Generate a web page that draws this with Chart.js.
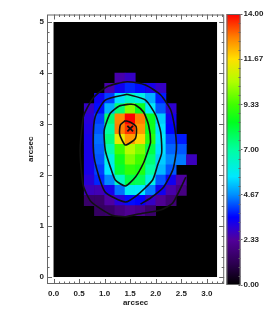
<!DOCTYPE html>
<html>
<head>
<meta charset="utf-8">
<title>arcsec map</title>
<script src="https://cdn.jsdelivr.net/npm/chart.js@4/dist/chart.umd.min.js"></script>
<style>
  html, body { margin: 0; padding: 0; background: #fff; }
  #wrap { position: relative; width: 273px; height: 314px; overflow: hidden; }
  #map { position: absolute; left: 0; top: 0; }
  #bar { position: absolute; left: 224px; top: 0; }
</style>
</head>
<body>
<div id="wrap">
  <canvas id="map" width="230" height="314"></canvas>
  <canvas id="bar" width="49" height="314"></canvas>
</div>
<script>
/* value per 0.2" pixel, first row is y = 4.8-5.0, first column x = 0.0-0.2 */
const flux = [
  [0,0,0,0,0,0,0,0,0,0,0,0,0,0,0,0],
  [0,0,0,0,0,0,0,0,0,0,0,0,0,0,0,0],
  [0,0,0,0,0,0,0,0,0,0,0,0,0,0,0,0],
  [0,0,0,0,0,0,0,0,0,0,0,0,0,0,0,0],
  [0,0,0,0,0,0,0,0,0,0,0,0,0,0,0,0],
  [0,0,0,0,0,0,2.5,2.8,0,0,0,0,0,0,0,0],
  [0,0,0,0,0,2.5,3.3,3.8,3.6,3.2,2.8,0,0,0,0,0],
  [0,0,0,0,3.3,4,5.5,6.5,6,5,3.7,0,0,0,0,0],
  [0,0,0,2.8,3.6,5,7.5,10,8.5,5.7,4.2,2.9,0,0,0,0],
  [0,0,0,3,4,7.5,12.7,14,12.8,8.5,5.3,3.3,0,0,0,0],
  [0,0,0,3.1,4.2,7,12.8,13.5,12.5,8.6,5.5,3.5,0,0,0,0],
  [0,0,0,3.2,4.4,7.4,11.3,12.5,11.8,9,5.7,4,3.7,0,0,0],
  [0,0,0,3.2,4.3,6.8,9.3,10.6,9.9,8,5.5,4.3,4.2,0,0,0],
  [0,0,0,3.2,4.2,6,8.6,10,9.3,7.5,5.3,4.6,4.5,2.7,0,0],
  [0,0,0,3.2,4,5.6,8.2,9.1,8.8,7,5.1,4.2,0,0,0,0],
  [0,0,0,3,3.8,4.6,6.5,8,7.8,6,4.2,3.3,2.4,0,0,0],
  [0,0,0,2.7,2.6,3.2,4.4,5.8,5.6,4.5,3.3,2.5,1.9,0,0,0],
  [0,0,0,1.5,1.5,2.4,3,3.6,3.5,2.8,2.2,1.7,0,0,0,0],
  [0,0,0,0,1.4,1.5,1.9,2.2,2,1.5,0,0,0,0,0,0],
  [0,0,0,0,0,0,0,0,0,0,0,0,0,0,0,0],
  [0,0,0,0,0,0,0,0,0,0,0,0,0,0,0,0],
  [0,0,0,0,0,0,0,0,0,0,0,0,0,0,0,0],
  [0,0,0,0,0,0,0,0,0,0,0,0,0,0,0,0],
  [0,0,0,0,0,0,0,0,0,0,0,0,0,0,0,0],
  [0,0,0,0,0,0,0,0,0,0,0,0,0,0,0,0]
];
const cellSize = 0.2;
const mapTop = 5;
const mapRight = 3.2;

/* contour lines in arcsec */
const contourOuter = [[2.59,1.96],[2.333,1.451],[2.097,1.314],[1.663,1.235],[1.406,1.182],[1.13,1.216],[.736,1.476],[.578,1.804],[.519,2.49],[.578,3.118],[.617,3.235],[.775,3.51],[1.045,3.731],[1.44,3.829],[1.8,3.765],[2.097,3.569],[2.294,3.275],[2.373,2.92],[2.406,2.588],[2.392,2.392],[2.333,2.098],[2.156,1.765],[1.899,1.549],[1.702,1.431]];
const contourMiddle = [[1.44,3.582],[1.8,3.47],[1.998,3.176],[2.097,2.843],[2.116,2.431],[2.037,2.196],[1.939,1.902],[1.663,1.627],[1.406,1.471],[1.006,1.673],[.809,2.261],[.775,2.686],[.815,3.143],[1.012,3.47],[1.44,3.582]];
const contourInner = [[1.505,3.392],[1.604,3.373],[1.761,3.235],[1.86,2.98],[1.899,2.647],[1.84,2.451],[1.761,2.235],[1.604,1.961],[1.406,1.784],[1.209,1.902],[1.11,2.163],[1.012,2.49],[.992,2.882],[1.11,3.21],[1.288,3.353],[1.505,3.392]];
const contourPeak = [[1.406,3.065],[1.308,2.98],[1.294,2.8],[1.406,2.588],[1.604,2.72],[1.617,2.947],[1.505,3.033],[1.406,3.065]];
const peakMark = [[1.5,2.91]];

const xTicks = [0, 0.5, 1, 1.5, 2, 2.5, 3];
const yTicks = [0, 1, 2, 3, 4, 5];
const barTicks = [0, 2.33, 4.67, 7, 9.33, 11.67, 14];

/* colour table, value -> colour */
const tableValues = [0, 1.1, 2.33, 3, 3.5, 4.67, 5.6, 7, 8.4, 9.33, 10.5, 11.67, 12.8, 14];
const tableColors = ['#000000', '#2c0050', '#52009a', '#2800d8', '#0000ff', '#0090ff', '#00e8ff', '#00ffa0', '#00ff20', '#40ff00', '#b0ff00', '#ffe000', '#ff8000', '#ff0000'];

function hexRgb(h) {
  return [1, 3, 5].map(i => parseInt(h.substr(i, 2), 16));
}
function colorFor(v) {
  let i = 0;
  while (i < tableValues.length - 2 && v > tableValues[i + 1]) i++;
  const t = (v - tableValues[i]) / (tableValues[i + 1] - tableValues[i]);
  const a = hexRgb(tableColors[i]), b = hexRgb(tableColors[i + 1]);
  const c = a.map((n, k) => Math.round(n + (b[k] - n) * t));
  return 'rgb(' + c.join(',') + ')';
}

const textFont = { family: "'Liberation Sans', sans-serif", size: 8, weight: 'bold' };
const textColor = '#222';
const frameColor = '#666';

// zero cells are left to the black backing drawn in the plugin below
const cells = [];
flux.forEach((row, r) => row.forEach((v, c) => {
  if (v > 0) cells.push({ x: (c + 0.5) * cellSize, y: mapTop - (r + 0.5) * cellSize, v });
}));

function contourSet(points) {
  return {
    data: points.map(p => ({ x: p[0], y: p[1] })),
    showLine: true, pointRadius: 0, borderColor: '#111', borderWidth: 1.6,
    tension: 0.2, order: 1
  };
}

// black image backing + inward ticks on all four sides, IDL style
const frameTicks = {
  id: 'frameTicks',
  beforeDatasetsDraw(chart) {
    const { ctx, scales: { x, y } } = chart;
    const left = x.getPixelForValue(0), top = y.getPixelForValue(mapTop);
    ctx.fillStyle = '#000';
    ctx.fillRect(left, top, x.getPixelForValue(mapRight) - left, y.getPixelForValue(0) - top);
  },
  afterDatasetsDraw(chart) {
    const { ctx, chartArea: a, scales: { x, y } } = chart;
    ctx.save();
    ctx.strokeStyle = frameColor;
    ctx.lineWidth = 1;
    ctx.strokeRect(a.left + 0.5, a.top + 0.5, a.right - a.left - 1, a.bottom - a.top - 1);
    ctx.beginPath();
    for (let i = 0; i <= 33; i++) {
      const px = Math.round(x.getPixelForValue(i * 0.1)) + 0.5;
      const len = i % 5 === 0 ? 5 : 2.5;
      ctx.moveTo(px, a.top); ctx.lineTo(px, a.top + len);
      ctx.moveTo(px, a.bottom); ctx.lineTo(px, a.bottom - len);
    }
    for (let i = 0; i <= 25; i++) {
      const py = Math.round(y.getPixelForValue(i * 0.2)) + 0.5;
      const len = i % 5 === 0 ? 5 : 2.5;
      ctx.moveTo(a.left, py); ctx.lineTo(a.left + len, py);
      ctx.moveTo(a.right, py); ctx.lineTo(a.right - len, py);
    }
    ctx.stroke();
    ctx.restore();
  }
};

new Chart(document.getElementById('map'), {
  type: 'scatter',
  plugins: [frameTicks],
  data: {
    datasets: [
      {
        data: cells,
        order: 5,
        pointStyle: 'rect',
        pointBorderWidth: 0,
        pointRadius(ctx) {
          const { x, y } = ctx.chart.scales;
          const w = Math.abs(x.getPixelForValue(cellSize) - x.getPixelForValue(0));
          const h = Math.abs(y.getPixelForValue(cellSize) - y.getPixelForValue(0));
          return (Math.max(w, h) + 0.6) / Math.SQRT2;
        },
        pointBackgroundColor: ctx => colorFor(ctx.raw ? ctx.raw.v : 0)
      },
      contourSet(contourOuter),
      contourSet(contourMiddle),
      contourSet(contourInner),
      contourSet(contourPeak),
      {
        data: peakMark.map(p => ({ x: p[0], y: p[1] })),
        pointStyle: 'crossRot', pointRadius: 4, pointBorderWidth: 1.8,
        pointBorderColor: '#111', order: 0
      }
    ]
  },
  options: {
    responsive: false,
    animation: false,
    events: [],
    layout: { padding: { top: 14.5, right: 1, left: 0, bottom: 0 } },
    plugins: { legend: { display: false }, tooltip: { enabled: false } },
    scales: {
      x: {
        type: 'linear', min: -0.128, max: 3.34,
        afterBuildTicks(s) { s.ticks = xTicks.map(v => ({ value: v })); },
        afterFit(s) { s.height = 30; },
        grid: { display: false, drawTicks: false }, border: { display: false },
        ticks: {
          font: textFont, color: textColor, padding: 5, maxRotation: 0, autoSkip: false,
          callback: v => v.toFixed(1)
        },
        title: { display: true, text: 'arcsec', font: textFont, color: textColor, padding: { top: 0, bottom: 6 } }
      },
      y: {
        type: 'linear', min: -0.137, max: 5.147,
        afterBuildTicks(s) { s.ticks = yTicks.map(v => ({ value: v })); },
        afterFit(s) { s.width = 47; },
        grid: { display: false, drawTicks: false }, border: { display: false },
        ticks: { font: textFont, color: textColor, padding: 3, autoSkip: false, callback: v => String(v) },
        title: { display: true, text: 'arcsec', font: textFont, color: textColor, padding: { top: 26, bottom: 0 } }
      }
    }
  }
});

const barEdge = {
  id: 'barEdge',
  afterDatasetsDraw(chart) {
    const { ctx, chartArea: a, scales: { y } } = chart;
    ctx.save();
    ctx.strokeStyle = frameColor;
    ctx.lineWidth = 1;
    ctx.strokeRect(a.left + 0.5, a.top + 0.5, a.right - a.left - 1, a.bottom - a.top - 1);
    ctx.beginPath();
    for (let i = 0; i <= 30; i++) {
      const py = Math.round(y.getPixelForValue(i * 14 / 30)) + 0.5;
      ctx.moveTo(a.right, py);
      ctx.lineTo(a.right - 2, py);
    }
    ctx.stroke();
    ctx.restore();
  }
};

new Chart(document.getElementById('bar'), {
  type: 'bar',
  plugins: [barEdge],
  data: {
    labels: ['flux'],
    datasets: [{
      data: [[0, 14]],
      categoryPercentage: 1,
      barPercentage: 1,
      borderSkipped: false,
      backgroundColor(ctx) {
        const { chart } = ctx;
        const a = chart.chartArea;
        if (!a) return tableColors[0];
        const g = chart.ctx.createLinearGradient(0, a.bottom, 0, a.top);
        tableValues.forEach((v, i) => g.addColorStop(v / 14, tableColors[i]));
        return g;
      }
    }]
  },
  options: {
    responsive: false,
    animation: false,
    events: [],
    layout: { padding: { top: 14, left: 2.5, right: 0, bottom: 29 } },
    plugins: { legend: { display: false }, tooltip: { enabled: false } },
    scales: {
      x: { display: false },
      y: {
        position: 'right', min: 0, max: 14,
        afterBuildTicks(s) { s.ticks = barTicks.map(v => ({ value: v })); },
        afterFit(s) { s.width = 32.5; },
        grid: { drawOnChartArea: false, tickLength: 2, tickColor: frameColor },
        border: { display: false },
        ticks: { font: textFont, color: textColor, padding: 1, autoSkip: false, callback: v => v.toFixed(2) }
      }
    }
  }
});
</script>
</body>
</html>
